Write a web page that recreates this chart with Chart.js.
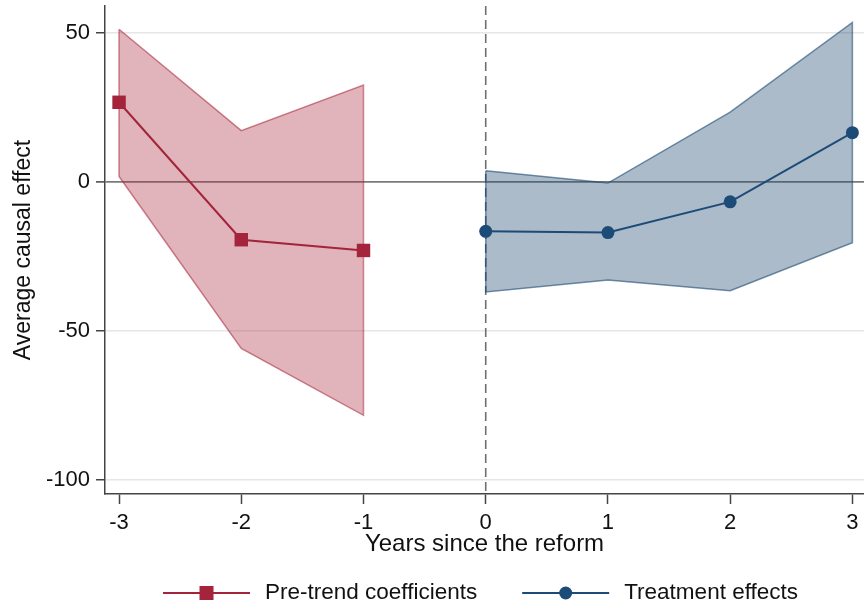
<!DOCTYPE html>
<html>
<head>
<meta charset="utf-8">
<script src="https://cdn.jsdelivr.net/npm/chart.js@4/dist/chart.umd.min.js"></script>
<style>
  html, body { margin: 0; padding: 0; background: #ffffff; }
  canvas { display: block; }
</style>
</head>
<body>
<canvas id="chart" width="864" height="607"></canvas>
<script>
// Event-study estimates: pre-reform leads and post-reform effects with confidence bands
const preYears   = [-3, -2, -1];
const preCoef    = [26.7, -19.4, -23.0];
const preUpper   = [51.2, 17.2, 32.5];
const preLower   = [1.8, -55.9, -78.3];

const postYears  = [0, 1, 2, 3];
const treatCoef  = [-16.6, -17.0, -6.7, 16.5];
const treatUpper = [3.7, -0.4, 23.4, 53.5];
const treatLower = [-36.9, -32.9, -36.5, -20.4];

const xTickValues = [-3, -2, -1, 0, 1, 2, 3];
const yTickValues = [-100, -50, 0, 50];

const legendLabels = ['Pre-trend coefficients', 'Treatment effects'];

const FONT = "'Liberation Sans', Arial, Helvetica, sans-serif";
Chart.defaults.font.family = FONT;
Chart.defaults.color = '#111111';

const RED_LINE  = '#a3243b';
const RED_EDGE  = 'rgba(168, 36, 58, 0.55)';
const RED_FILL  = 'rgba(168, 36, 58, 0.35)';
const BLUE_LINE = '#1d4b78';
const BLUE_EDGE = 'rgba(26, 71, 111, 0.6)';
const BLUE_FILL = 'rgba(26, 71, 111, 0.37)';

const pts = (xs, ys) => xs.map((v, i) => ({ x: v, y: ys[i] }));
// closed outline of a band: upper edge forward, lower edge back
const outline = (xs, up, lo) => {
  const a = pts(xs, up);
  const b = pts(xs, lo).reverse();
  return a.concat(b, [a[0]]);
};

// axes sit flush with the plot frame, no extra room for end labels
const noEdgePadding = s => {
  s.paddingTop = 0; s.paddingBottom = 0;
  s.paddingLeft = 0; s.paddingRight = 0;
};

// dashed reference line at the reform year
const reformLine = {
  id: 'reformLine',
  beforeDatasetsDraw(chart) {
    const { ctx, chartArea: a, scales: { x } } = chart;
    const px = x.getPixelForValue(0);
    ctx.save();
    ctx.strokeStyle = '#6f6f6f';
    ctx.lineWidth = 1.6;
    ctx.setLineDash([9, 5]);
    ctx.beginPath();
    ctx.moveTo(px, a.top);
    ctx.lineTo(px, a.bottom);
    ctx.stroke();
    ctx.restore();
  }
};

// legend below the axis: line sample with marker, then label
const lineLegend = {
  id: 'lineLegend',
  afterDraw(chart) {
    const ctx = chart.ctx;
    const y = 593;
    const lineLen = 87, textGap = 15, itemGap = 45;
    const items = [
      { text: legendLabels[0], color: RED_LINE, marker: 'rect' },
      { text: legendLabels[1], color: BLUE_LINE, marker: 'circle' }
    ];
    let x = 163;
    ctx.save();
    ctx.font = '22.5px ' + FONT;
    ctx.textBaseline = 'middle';
    ctx.textAlign = 'left';
    items.forEach(it => {
      ctx.strokeStyle = it.color;
      ctx.lineWidth = 2;
      ctx.beginPath();
      ctx.moveTo(x, y);
      ctx.lineTo(x + lineLen, y);
      ctx.stroke();
      const cx = x + lineLen / 2;
      ctx.fillStyle = it.color;
      if (it.marker === 'rect') {
        ctx.fillRect(cx - 7, y - 7, 14, 14);
      } else {
        ctx.beginPath();
        ctx.arc(cx, y, 6.5, 0, Math.PI * 2);
        ctx.fill();
      }
      const tx = x + lineLen + textGap;
      ctx.fillStyle = '#111111';
      ctx.fillText(it.text, tx, y);
      x = tx + ctx.measureText(it.text).width + itemGap;
    });
    ctx.restore();
  }
};

new Chart(document.getElementById('chart'), {
  type: 'line',
  data: {
    datasets: [
      { data: pts(preYears, preUpper), borderWidth: 0, pointRadius: 0, fill: false, order: 3 },
      { data: pts(preYears, preLower), borderWidth: 0, pointRadius: 0, fill: '-1', backgroundColor: RED_FILL, order: 3 },
      { data: pts(postYears, treatUpper), borderWidth: 0, pointRadius: 0, fill: false, order: 3 },
      { data: pts(postYears, treatLower), borderWidth: 0, pointRadius: 0, fill: '-1', backgroundColor: BLUE_FILL, order: 3 },
      { data: outline(preYears, preUpper, preLower), borderColor: RED_EDGE, borderWidth: 1.5, pointRadius: 0, fill: false, order: 2 },
      { data: outline(postYears, treatUpper, treatLower), borderColor: BLUE_EDGE, borderWidth: 1.5, pointRadius: 0, fill: false, order: 2 },
      {
        label: legendLabels[0], data: pts(preYears, preCoef),
        borderColor: RED_LINE, borderWidth: 2, fill: false,
        pointStyle: 'rect', pointRadius: 9.5, pointBackgroundColor: RED_LINE,
        pointBorderColor: RED_LINE, pointBorderWidth: 0, order: 1
      },
      {
        label: legendLabels[1], data: pts(postYears, treatCoef),
        borderColor: BLUE_LINE, borderWidth: 2, fill: false,
        pointStyle: 'circle', pointRadius: 6.5, pointBackgroundColor: BLUE_LINE,
        pointBorderColor: BLUE_LINE, pointBorderWidth: 0, order: 1
      }
    ]
  },
  options: {
    responsive: false,
    devicePixelRatio: 1,
    animation: false,
    events: [],
    layout: { autoPadding: false, padding: { top: 6, bottom: 47, left: 0, right: 0 } },
    elements: { line: { tension: 0 } },
    plugins: { legend: { display: false }, tooltip: { enabled: false } },
    scales: {
      x: {
        type: 'linear',
        min: -3.115,
        max: 3.095,
        afterBuildTicks: s => { s.ticks = xTickValues.map(v => ({ value: v })); },
        afterFit: s => { s.height = 66; noEdgePadding(s); },
        ticks: {
          font: { size: 22 }, color: '#111111', padding: 6,
          maxRotation: 0, autoSkip: false,
          callback: v => String(v)
        },
        grid: { drawOnChartArea: false, drawTicks: true, tickLength: 10, tickColor: '#444444', tickWidth: 1.5 },
        border: { color: '#444444', width: 1.5 },
        title: {
          display: true, text: 'Years since the reform',
          font: { size: 24 }, color: '#111111', padding: { top: 0, bottom: 1 }
        }
      },
      y: {
        min: -104.7,
        max: 59,
        afterBuildTicks: s => { s.ticks = yTickValues.map(v => ({ value: v })); },
        afterFit: s => { s.width = 105; noEdgePadding(s); },
        ticks: { font: { size: 22 }, color: '#111111', padding: 6, callback: v => String(v) },
        grid: {
          color: c => (c.tick && c.tick.value === 0) ? '#7b7b7b' : '#e6e6e6',
          lineWidth: c => (c.tick && c.tick.value === 0) ? 1.8 : 1.5,
          tickLength: 9, tickColor: '#444444', tickWidth: 1.5
        },
        border: { color: '#444444', width: 1.5 },
        title: {
          display: true, text: 'Average causal effect',
          font: { size: 23 }, color: '#111111', padding: { top: 10, bottom: 0 }
        }
      }
    }
  },
  plugins: [reformLine, lineLegend]
});
</script>
</body>
</html>
